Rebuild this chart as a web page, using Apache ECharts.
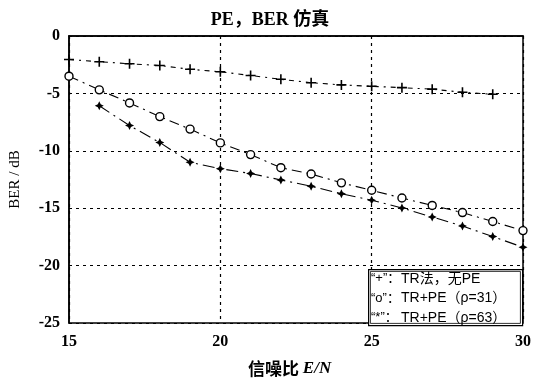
<!DOCTYPE html>
<html>
<head>
<meta charset="utf-8">
<script src="https://cdn.jsdelivr.net/npm/echarts@6/dist/echarts.min.js"></script>
<style>
  html, body { margin: 0; padding: 0; background: #fff; }
  #chart { width: 546px; height: 384px; }
</style>
</head>
<body>
<div id="chart"></div>
<script>
// E/N (dB) sample points
const snrAll = [15, 16, 17, 18, 19, 20, 21, 22, 23, 24, 25, 26, 27, 28, 29, 30];

// "+" : TR method, no PE
const snrTr = [15, 16, 17, 18, 19, 20, 21, 22, 23, 24, 25, 26, 27, 28, 29];
const berTr = [-2.05, -2.24, -2.42, -2.57, -2.90, -3.12, -3.44, -3.77, -4.07, -4.26, -4.38, -4.50, -4.63, -4.90, -5.08];

// "o" : TR + PE (rho = 31)
const berPe31 = [-3.50, -4.69, -5.83, -7.02, -8.11, -9.31, -10.33, -11.47, -12.02, -12.79, -13.44, -14.11, -14.76, -15.38, -16.16, -16.95];

// "*" : TR + PE (rho = 63)
const snrPe63 = [16, 17, 18, 19, 20, 21, 22, 23, 24, 25, 26, 27, 28, 29, 30];
const berPe63 = [-6.08, -7.80, -9.28, -11.00, -11.56, -11.98, -12.54, -13.09, -13.74, -14.30, -14.98, -15.77, -16.55, -17.47, -18.40];

const xTicks = { min: 15, max: 30, step: 5 };
const yTicks = { min: -25, max: 0, step: 5 };

const legendRows = [
  ['\u201C+\u201D\uFF1A', 'TR法，无PE'],
  ['\u201Co\u201D\uFF1A', 'TR+PE（ρ=31）'],
  ['\u201C*\u201D\uFF1A', 'TR+PE（ρ=63）']
];

const zip = (xs, ys) => xs.map((x, i) => [x, ys[i]]);

const plusPath = 'path://M-0.8,-5H0.8V-0.8H5V0.8H0.8V5H-0.8V0.8H-5V-0.8H-0.8Z';
const starPath = 'path://M0,-5L1.6,-1.6L5,0L1.6,1.6L0,5L-1.6,1.6L-5,0L-1.6,-1.6Z';

const serif = '"Liberation Serif", "DejaVu Serif", serif';
const cjkSerif = '"Liberation Serif", "Noto Sans CJK SC", serif';
const sans = '"Liberation Sans", "Noto Sans CJK SC", sans-serif';

const chart = echarts.init(document.getElementById('chart'), null, { renderer: 'canvas' });

const gridLine = { show: true, lineStyle: { color: '#000', width: 1.2, type: [3, 4] } };
const tickLabel = { color: '#000', fontFamily: serif, fontWeight: 'bold', fontSize: 16 };

const legendGraphics = [];
legendRows.forEach((row, i) => {
  const y = 280 + i * 19.5;
  legendGraphics.push({
    type: 'text', left: 371, top: y - 8, z: 100,
    style: { text: row[0], font: '13px ' + sans, fill: '#000' }
  });
  legendGraphics.push({
    type: 'text', left: 401, top: y - 8, z: 100,
    style: { text: row[1], font: '14px ' + sans, fill: '#000' }
  });
});

chart.setOption({
  backgroundColor: '#fff',
  animation: false,
  title: {
    text: 'PE，BER 仿真',
    left: 265, top: 6, textAlign: 'center',
    textStyle: { fontFamily: cjkSerif, fontWeight: 'bold', fontSize: 18, color: '#000' }
  },
  grid: {
    left: 61, right: 23, top: 36, bottom: 61,
    show: true, borderColor: '#000', borderWidth: 1.5, backgroundColor: 'transparent'
  },
  xAxis: {
    type: 'value', min: xTicks.min, max: xTicks.max, interval: xTicks.step,
    axisLine: { show: true, lineStyle: { color: '#000', width: 1.5 } },
    axisTick: { show: false },
    axisLabel: Object.assign({ margin: 11 }, tickLabel),
    splitLine: gridLine
  },
  yAxis: {
    type: 'value', min: yTicks.min, max: yTicks.max, interval: yTicks.step,
    name: 'BER / dB', nameLocation: 'middle', nameGap: 46, nameRotate: 90,
    nameTextStyle: { fontFamily: serif, fontSize: 15, color: '#000' },
    axisLine: { show: true, lineStyle: { color: '#000', width: 1.5 } },
    axisTick: { show: false },
    axisLabel: Object.assign({ margin: 9 }, tickLabel),
    splitLine: gridLine
  },
  graphic: [
    {
      type: 'text', left: 248, top: 360, z: 100,
      style: {
        text: '{a|信噪比 }{b|E/N}',
        rich: {
          a: { fontFamily: '"Noto Sans CJK SC", sans-serif', fontSize: 17, fontWeight: 'bold', fill: '#000' },
          b: { fontFamily: serif, fontStyle: 'italic', fontSize: 17, fontWeight: 'bold', fill: '#000' }
        }
      }
    },
    {
      type: 'rect', left: 368, top: 269, z: 90,
      shape: { width: 154, height: 56 },
      style: { fill: '#fff', stroke: '#000', lineWidth: 1.2 }
    },
    {
      type: 'rect', left: 370, top: 271, z: 91,
      shape: { width: 150, height: 52 },
      style: { fill: 'transparent', stroke: '#000', lineWidth: 0.8 }
    }
  ].concat(legendGraphics),
  series: [
    {
      name: '+', type: 'line', data: zip(snrTr, berTr),
      symbol: plusPath, symbolSize: 10, showAllSymbol: true,
      itemStyle: { color: '#000' },
      lineStyle: { color: '#000', width: 1.1, type: [5, 5, 2, 5] }
    },
    {
      name: 'o', type: 'line', data: zip(snrAll, berPe31),
      symbol: 'circle', symbolSize: 8, showAllSymbol: true,
      itemStyle: { color: '#fff', borderColor: '#000', borderWidth: 1.4 },
      lineStyle: { color: '#000', width: 1.1, type: [10, 5, 2, 5] }
    },
    {
      name: '*', type: 'line', data: zip(snrPe63, berPe63),
      symbol: starPath, symbolSize: 9, showAllSymbol: true,
      itemStyle: { color: '#000' },
      lineStyle: { color: '#000', width: 1.1, type: [12, 5, 2, 5] }
    }
  ]
});
</script>
</body>
</html>
